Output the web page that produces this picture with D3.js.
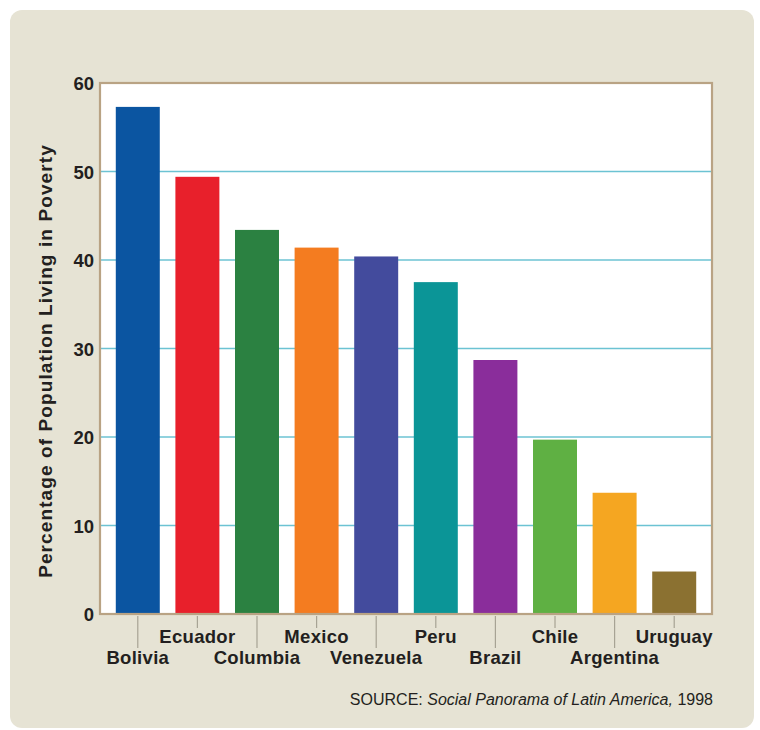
<!DOCTYPE html>
<html>
<head>
<meta charset="utf-8">
<script src="https://cdn.jsdelivr.net/npm/d3@7"></script>
<style>
  html, body { margin: 0; padding: 0; background: #ffffff; }
  svg { display: block; }
</style>
</head>
<body>
<svg id="chart" width="760" height="730"></svg>
<script>
// Poverty rates in Latin America, ordered from highest to lowest
const countries = ["Bolivia", "Ecuador", "Columbia", "Mexico", "Venezuela", "Peru", "Brazil", "Chile", "Argentina", "Uruguay"];
const poverty = [57.3, 49.4, 43.4, 41.4, 40.4, 37.5, 28.7, 19.7, 13.7, 4.8];
const barColors = ["#0b55a1", "#e8202b", "#2b8141", "#f47c20", "#434b9d", "#0b9597", "#8a2d9b", "#5fb043", "#f5a621", "#8b7131"];
const yTicks = [0, 10, 20, 30, 40, 50, 60];
const yTitle = "Percentage of Population Living in Poverty";

const svg = d3.select("#chart");
const plot = { left: 100, right: 712, top: 83, bottom: 614 };

// rounded beige backdrop
svg.append("rect")
  .attr("x", 10).attr("y", 10)
  .attr("width", 744).attr("height", 718)
  .attr("rx", 12)
  .attr("fill", "#e6e3d4");

const x = d3.scaleBand()
  .domain(countries)
  .range([plot.left, plot.right])
  .paddingInner(0.262)
  .paddingOuter(0.265);

const y = d3.scaleLinear()
  .domain([0, 60])
  .range([plot.bottom, plot.top]);

// white plotting area
svg.append("rect")
  .attr("x", plot.left).attr("y", plot.top)
  .attr("width", plot.right - plot.left).attr("height", plot.bottom - plot.top)
  .attr("fill", "#ffffff");

// horizontal gridlines
svg.append("g")
  .selectAll("line")
  .data(yTicks.filter(t => t > 0 && t < 60))
  .join("line")
  .attr("x1", plot.left).attr("x2", plot.right)
  .attr("y1", d => y(d)).attr("y2", d => y(d))
  .attr("stroke", "#6cc3d3")
  .attr("stroke-width", 1.3);

// bars
svg.append("g")
  .selectAll("rect")
  .data(countries)
  .join("rect")
  .attr("x", d => x(d))
  .attr("width", x.bandwidth())
  .attr("y", (d, i) => y(poverty[i]))
  .attr("height", (d, i) => y(0) - y(poverty[i]))
  .attr("fill", (d, i) => barColors[i]);

// plot frame
svg.append("rect")
  .attr("x", plot.left).attr("y", plot.top)
  .attr("width", plot.right - plot.left).attr("height", plot.bottom - plot.top)
  .attr("fill", "none")
  .attr("stroke", "#b9a384")
  .attr("stroke-width", 2.2);

// y axis labels
const yAxis = d3.axisLeft(y).tickValues(yTicks).tickSize(0).tickPadding(6);
const yg = svg.append("g")
  .attr("transform", `translate(${plot.left},0)`)
  .call(yAxis);
yg.select(".domain").remove();
yg.selectAll("text")
  .attr("font-family", "Liberation Sans, Arial, sans-serif")
  .attr("font-weight", "bold")
  .attr("font-size", 18.5)
  .attr("fill", "#231f20")
  .attr("dy", "0.36em");

// y axis title
svg.append("text")
  .attr("transform", "translate(52,361) rotate(-90)")
  .attr("text-anchor", "middle")
  .attr("font-family", "Liberation Sans, Arial, sans-serif")
  .attr("font-weight", "bold")
  .attr("font-size", 19)
  .attr("letter-spacing", 1.1)
  .attr("fill", "#231f20")
  .text(yTitle);

// x axis: staggered labels with leader ticks
const xAxis = d3.axisBottom(x)
  .tickSize(0)
  .tickFormat(d => d);
const xg = svg.append("g")
  .attr("transform", `translate(0,${plot.bottom})`)
  .call(xAxis);
xg.select(".domain").remove();
xg.selectAll(".tick line")
  .attr("y1", 2)
  .attr("y2", (d, i) => i % 2 === 0 ? 34 : 14)
  .attr("stroke", "#a7a394")
  .attr("stroke-width", 1.2);
xg.selectAll(".tick text")
  .attr("y", (d, i) => i % 2 === 0 ? 50 : 29)
  .attr("dy", 0)
  .attr("font-family", "Liberation Sans, Arial, sans-serif")
  .attr("font-weight", "bold")
  .attr("font-size", 18.5)
  .attr("letter-spacing", 0.3)
  .attr("fill", "#231f20");

// source note
const src = svg.append("text")
  .attr("x", 713).attr("y", 705)
  .attr("text-anchor", "end")
  .attr("font-family", "Liberation Sans, Arial, sans-serif")
  .attr("font-size", 16)
  .attr("fill", "#231f20");
src.append("tspan").text("SOURCE: ");
src.append("tspan").attr("font-style", "italic").text("Social Panorama of Latin America,");
src.append("tspan").text(" 1998");
</script>
</body>
</html>
